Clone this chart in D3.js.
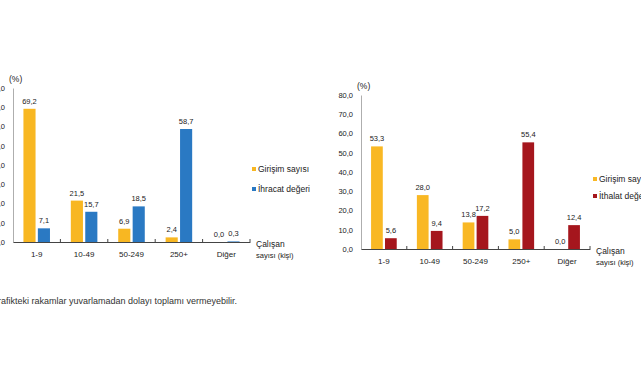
<!DOCTYPE html>
<html>
<head>
<meta charset="utf-8">
<script src="https://cdn.jsdelivr.net/npm/d3@7"></script>
<style>
  body { margin: 0; background: #fff; }
  svg text { font-family: "Liberation Sans", Arial, sans-serif; fill: #222; }
</style>
</head>
<body>
<svg id="chart" width="641" height="380"></svg>
<script>
var categories = ["1-9", "10-49", "50-249", "250+", "Diğer"];
var yTicks = [0, 10, 20, 30, 40, 50, 60, 70, 80];
var girisimExport = [69.2, 21.5, 6.9, 2.4, 0.0];
var ihracat = [7.1, 15.7, 18.5, 58.7, 0.3];
var girisimImport = [53.3, 28.0, 13.8, 5.0, 0.0];
var ithalat = [5.6, 9.4, 17.2, 55.4, 12.4];
var seriesNamesLeft = ["Girişim sayısı", "İhracat değeri"];
var seriesNamesRight = ["Girişim sayısı", "İthalat değeri"];

var svg = d3.select("#chart");
var fmt = function (v) { return d3.format(".1f")(v).replace(".", ","); };

// opts: x0,x1 = axis span, y0 = baseline, yTop = 80 line, colors, legend positions
function drawChart(opts, a, b, names) {
    var x = d3.scaleBand()
        .domain(categories)
        .range([opts.x0, opts.x1])
        .paddingInner(0.44)
        .paddingOuter(0.22);
    var xs = d3.scaleBand()
        .domain([0, 1])
        .range([0, x.bandwidth()])
        .paddingInner(0.16);
    var y = d3.scaleLinear()
        .domain([0, 80])
        .range([opts.y0, opts.yTop]);

    var g = svg.append("g");

    // y axis
    var ya = g.append("g")
        .attr("transform", "translate(" + opts.x0 + ",0)")
        .call(d3.axisLeft(y).tickValues(yTicks).tickSize(0).tickPadding(8).tickFormat(fmt));
    ya.select(".domain").attr("stroke", "#999").attr("stroke-width", 0.8);
    ya.selectAll("text").style("font-size", "7.5px").style("font-family", "Liberation Sans, Arial");

    g.append("text")
        .attr("x", opts.x0 - 4)
        .attr("y", y(80) - 6)
        .style("font-size", "8.5px")
        .text("(%)");

    var data = categories.map(function (c, i) { return {cat: c, vals: [a[i], b[i]]}; });

    var grp = g.selectAll(".grp")
        .data(data)
        .enter().append("g")
        .attr("transform", function (d) { return "translate(" + x(d.cat) + ",0)"; });

    grp.selectAll("rect")
        .data(function (d) { return d.vals; })
        .enter().append("rect")
        .attr("x", function (d, i) { return xs(i); })
        .attr("width", xs.bandwidth())
        .attr("y", function (d) { return y(d); })
        .attr("height", function (d) { return opts.y0 - y(d); })
        .attr("fill", function (d, i) { return opts.colors[i]; });

    grp.selectAll(".val")
        .data(function (d) { return d.vals; })
        .enter().append("text")
        .attr("class", "val")
        .attr("x", function (d, i) { return xs(i) + xs.bandwidth() / 2; })
        .attr("y", function (d) { return y(d) - 5; })
        .attr("text-anchor", "middle")
        .style("font-size", "7.5px")
        .text(fmt);

    // x axis
    var xa = g.append("g")
        .attr("transform", "translate(0," + opts.y0 + ")")
        .call(d3.axisBottom(x).tickSize(0).tickPadding(9));
    xa.select(".domain").attr("stroke", "#444").attr("stroke-width", 1);
    xa.selectAll("text").style("font-size", "8px").style("font-family", "Liberation Sans, Arial");

    var bounds = categories.map(function (c) { return x(c) - x.step() * x.paddingInner() / 2; }).slice(1);
    bounds.push(opts.x1);
    g.selectAll(".btick")
        .data(bounds)
        .enter().append("line")
        .attr("x1", function (d) { return d; })
        .attr("x2", function (d) { return d; })
        .attr("y1", opts.y0)
        .attr("y2", opts.y0 - 3)
        .attr("stroke", "#444");

    // axis title
    g.append("text").attr("x", opts.x1 + 6).attr("y", opts.y0 + 5)
        .style("font-size", "8.5px").text("Çalışan");
    g.append("text").attr("x", opts.x1 + 6).attr("y", opts.y0 + 16)
        .style("font-size", "7.5px").text("sayısı  (kişi)");

    // legend
    names.forEach(function (n, i) {
        var ly = opts.legY + i * opts.legGap;
        g.append("rect")
            .attr("x", opts.legX).attr("y", ly - 5)
            .attr("width", 4).attr("height", 4)
            .attr("fill", opts.colors[i]);
        g.append("text")
            .attr("x", opts.legX + 6).attr("y", ly)
            .style("font-size", "8.5px")
            .text(n);
    });
}

drawChart({x0: 13, x1: 250, y0: 242, yTop: 88, colors: ["#F8B722", "#2A79C3"],
           legX: 252, legY: 172, legGap: 20}, girisimExport, ihracat, seriesNamesLeft);
drawChart({x0: 361, x1: 590, y0: 249, yTop: 95, colors: ["#F9B824", "#A5161D"],
           legX: 593, legY: 182, legGap: 17}, girisimImport, ithalat, seriesNamesRight);

svg.append("text")
    .attr("x", 237).attr("y", 304)
    .attr("text-anchor", "end")
    .style("font-size", "9px")
    .style("fill", "#333")
    .text("Grafikteki rakamlar yuvarlamadan dolayı toplamı vermeyebilir.");
</script>
</body>
</html>
